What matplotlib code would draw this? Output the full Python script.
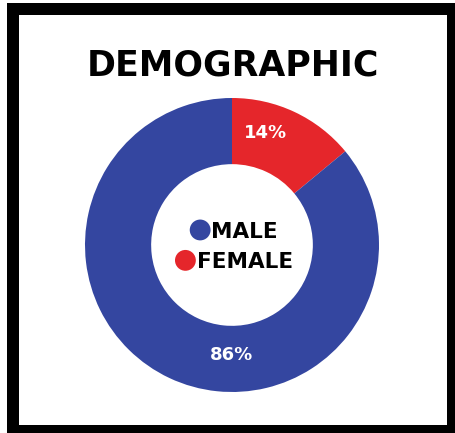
import matplotlib.pyplot as plt
from matplotlib.patches import Rectangle, Circle
from matplotlib.offsetbox import TextArea, DrawingArea, HPacker, VPacker, AnchoredOffsetbox

labels = ["FEMALE", "MALE"]
shares = [14, 86]
colors = ["#E5262B", "#3446A0"]

W, H = 455, 433
fig = plt.figure(figsize=(W / 100, H / 100), dpi=100)

# black frame
fig.patches.append(Rectangle((7 / W, 0), 1 - 7 / W, 1 - 3 / H, transform=fig.transFigure,
                             facecolor="black", edgecolor="none", zorder=0))
fig.patches.append(Rectangle((19 / W, 8 / H), (447 - 19) / W, (425 - 15) / H, transform=fig.transFigure,
                             facecolor="white", edgecolor="none", zorder=1))

fig.text(233 / W, 1 - 66 / H, "DEMOGRAPHIC", ha="center", va="center",
         fontsize=25, fontweight="bold", family="DejaVu Sans", color="black", zorder=3)

cx, cy, r = 232, 245, 147
ax = fig.add_axes([(cx - r) / W, (H - cy - r) / H, 2 * r / W, 2 * r / H])
ax.set_zorder(2)
ax.patch.set_visible(False)
wedges, _ = ax.pie(shares, colors=colors, startangle=90, counterclock=False,
                   radius=1, wedgeprops=dict(width=0.45, edgecolor="none"))
ax.set_xlim(-1, 1)
ax.set_ylim(-1, 1)
ax.axis("off")

ax.text(0.23, 0.76, f"{shares[0]}%", ha="center", va="center", color="white",
        fontsize=13, fontweight="bold", family="DejaVu Sans")
ax.text(0.0, -0.75, f"{shares[1]}%", ha="center", va="center", color="white",
        fontsize=13, fontweight="bold", family="DejaVu Sans")

rows = []
for lab, col in zip(labels[::-1], colors[::-1]):
    da = DrawingArea(16, 12, 0, 0, clip=False)
    da.add_artist(Circle((8, 5.5), 7.5, facecolor=col, edgecolor="none"))
    ta = TextArea(lab, textprops=dict(fontsize=15.5, fontweight="bold", family="DejaVu Sans", color="black"))
    rows.append(HPacker(children=[da, ta], align="baseline", pad=0, sep=0))
box = VPacker(children=rows, align="center", pad=0, sep=7)
anch = AnchoredOffsetbox(loc="center", child=box, frameon=False,
                         bbox_to_anchor=(0.505, 0.495), bbox_transform=ax.transAxes, borderpad=0)
ax.add_artist(anch)

fig.savefig("out.png", dpi=100)
